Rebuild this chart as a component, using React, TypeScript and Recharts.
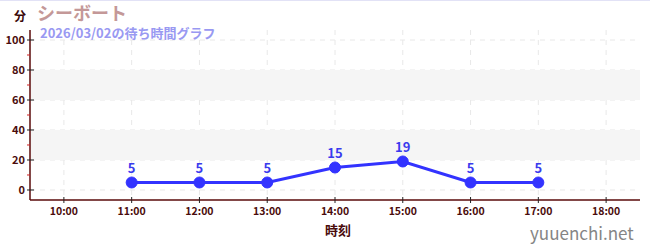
import React from 'react';
import {
  LineChart,
  Line,
  XAxis,
  YAxis,
  CartesianGrid,
  ReferenceArea,
  LabelList,
} from 'recharts';

// Wait times (minutes) by hour of day
const hours = [11, 12, 13, 14, 15, 16, 17];
const waitMinutes = [5, 5, 5, 15, 19, 5, 5];
const xTicks = [10, 11, 12, 13, 14, 15, 16, 17, 18];
const yTicks = [0, 10, 20, 30, 40, 50, 60, 70, 80, 90, 100];
const yGridValues = [0, 20, 40, 60, 80, 100];
const shadedBands: [number, number][] = [
  [20, 40],
  [60, 80],
];

const attractionName = 'シーボート';
const subtitle = '2026/03/02の待ち時間グラフ';
const yUnit = '分';
const xTitle = '時刻';
const siteName = 'yuuenchi.net';

const data = hours.map((h, i) => ({ hour: h, wait: waitMinutes[i] }));

const FONT = '"Noto Sans CJK JP", "Noto Sans", sans-serif';
const AXIS_COLOR = '#5a0a0a';
const LABEL_COLOR = '#4a0c0c';

const YTick = (props: any) => {
  const { x, y, payload } = props;
  const v = payload.value as number;
  if (v % 20 !== 0) {
    return <line x1={x - 3} x2={x} y1={y} y2={y} stroke="#d02020" strokeWidth={1} />;
  }
  return (
    <g>
      <line x1={x - 3} x2={x + 4} y1={y} y2={y} stroke="#222" strokeWidth={1} />
      <text
        x={x - 5}
        y={y}
        dy={4}
        textAnchor="end"
        fill={LABEL_COLOR}
        fontSize={11}
        fontWeight={700}
        fontFamily={FONT}
      >
        {v}
      </text>
    </g>
  );
};

const XTick = (props: any) => {
  const { x, y, payload } = props;
  return (
    <g>
      <line x1={x} x2={x} y1={y - 3} y2={y + 3} stroke="#222" strokeWidth={1} />
      <text
        x={x}
        y={y + 15}
        textAnchor="middle"
        fill={LABEL_COLOR}
        fontSize={10.5}
        fontWeight={700}
        fontFamily={FONT}
      >
        {`${payload.value}:00`}
      </text>
    </g>
  );
};

export default function App() {
  return (
    <div
      style={{
        position: 'absolute',
        left: 0,
        top: 0,
        width: 650,
        height: 250,
        background: '#fff',
        fontFamily: FONT,
        overflow: 'hidden',
      }}
    >
      <div style={{ position: 'absolute', left: 0, top: 0, width: 650, height: 1, background: '#e2e2f6' }} />
      <LineChart
        width={650}
        height={250}
        data={data}
        margin={{ top: 30, right: 10, left: 0, bottom: 0 }}
      >
        {shadedBands.map(([a, b]) => (
          <ReferenceArea key={a} y1={a} y2={b} fill="#f5f5f5" fillOpacity={1} stroke="none" />
        ))}
        <CartesianGrid
          stroke="#e8e8e8"
          strokeDasharray="5 5"
          horizontalValues={yGridValues}
          verticalValues={xTicks}
        />
        <XAxis
          type="number"
          dataKey="hour"
          domain={[9.5, 18.5]}
          ticks={xTicks}
          height={50}
          interval={0}
          tickSize={0}
          tickMargin={0}
          axisLine={{ stroke: AXIS_COLOR, strokeWidth: 1.5 }}
          tickLine={false}
          tick={<XTick />}
        />
        <YAxis
          type="number"
          domain={[-6.67, 106.67]}
          ticks={yTicks}
          width={30}
          interval={0}
          tickSize={0}
          tickMargin={0}
          allowDataOverflow
          axisLine={{ stroke: AXIS_COLOR, strokeWidth: 1.5 }}
          tickLine={false}
          tick={<YTick />}
        />
        <Line
          type="linear"
          dataKey="wait"
          stroke="#3333ff"
          strokeWidth={3}
          dot={{ r: 5.5, fill: '#3333ff', stroke: '#3333ff', strokeWidth: 1 }}
          isAnimationActive={false}
        >
          <LabelList
            dataKey="wait"
            position="top"
            offset={9}
            fill="#3a3aee"
            fontSize={13}
            fontWeight={700}
            fontFamily={FONT}
          />
        </Line>
      </LineChart>
      <div style={{ position: 'absolute', left: 14, top: 9, fontSize: 12, fontWeight: 700, color: '#3a0808', lineHeight: '14px' }}>
        {yUnit}
      </div>
      <div style={{ position: 'absolute', left: 37, top: 2, fontSize: 18, fontWeight: 700, color: '#c49898', lineHeight: '20px' }}>
        {attractionName}
      </div>
      <div style={{ position: 'absolute', left: 40, top: 26, fontSize: 13, fontWeight: 700, color: '#9999f2', lineHeight: '14px' }}>
        {subtitle}
      </div>
      <div style={{ position: 'absolute', left: 325, top: 222, fontSize: 13, fontWeight: 700, color: '#4a0c0c', lineHeight: '16px' }}>
        {xTitle}
      </div>
      <div style={{ position: 'absolute', left: 530, top: 222, fontSize: 17, color: '#858585', lineHeight: '22px' }}>
        {siteName}
      </div>
    </div>
  );
}
